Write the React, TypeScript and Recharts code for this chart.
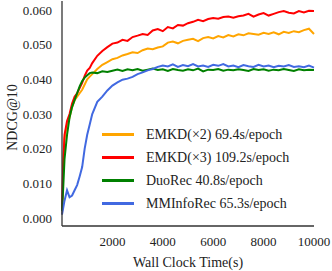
import React from "react";
import { LineChart, Line, XAxis, YAxis } from "recharts";

const times = [0, 50, 100, 200, 300, 400, 500, 600, 700, 800, 900, 1000, 1100, 1200,
  1400, 1600, 1800, 2000, 2200, 2400, 2600, 2800, 3000, 3200, 3400, 3600, 3800, 4000, 4200,
  4400, 4600, 4800, 5000, 5200, 5400, 5600, 5800, 6000, 6200, 6400, 6600, 6800, 7000, 7200,
  7400, 7600, 7800, 8000, 8200, 8400, 8600, 8800, 9000, 9200, 9400, 9600, 9800, 10000];

const emkd3 = [0.002, 0.016, 0.024, 0.028, 0.030, 0.033, 0.035, 0.036, 0.0375, 0.039, 0.041, 0.0425, 0.0433, 0.0447,
  0.0468, 0.0482, 0.0493, 0.0503, 0.0506, 0.0514, 0.0511, 0.0522, 0.0526, 0.0531, 0.0528, 0.0541, 0.0545, 0.0539, 0.0551,
  0.0547, 0.0557, 0.0555, 0.0562, 0.0566, 0.0572, 0.0568, 0.0574, 0.0577, 0.0575, 0.0580, 0.0581, 0.0578, 0.0582, 0.0584,
  0.0589, 0.0581, 0.0587, 0.0591, 0.0584, 0.0589, 0.0594, 0.0597, 0.0592, 0.0590, 0.0597, 0.0593, 0.0598, 0.0597];

const emkd2 = [0.001, 0.015, 0.023, 0.027, 0.029, 0.032, 0.034, 0.035, 0.036, 0.037, 0.0385, 0.040, 0.0408, 0.0415,
  0.0430, 0.0442, 0.0450, 0.0458, 0.0462, 0.0469, 0.0473, 0.0478, 0.0476, 0.0484, 0.0489, 0.0487, 0.0492, 0.0495, 0.0506,
  0.0509, 0.0504, 0.0511, 0.0514, 0.0517, 0.0510, 0.0519, 0.0522, 0.0518, 0.0525, 0.0521, 0.0528, 0.0524, 0.0530, 0.0527,
  0.0533, 0.0531, 0.0529, 0.0534, 0.0531, 0.0536, 0.0530, 0.0537, 0.0534, 0.0539, 0.0536, 0.0542, 0.0546, 0.0531];

const duorec = [0.002, 0.009, 0.017, 0.024, 0.029, 0.032, 0.034, 0.036, 0.038, 0.0395, 0.0405, 0.0412, 0.0418, 0.0420,
  0.0418, 0.0423, 0.0421, 0.0425, 0.0428, 0.0424, 0.0429, 0.0426, 0.0430, 0.0425, 0.0428, 0.0431, 0.0427, 0.0429, 0.0424,
  0.0430, 0.0427, 0.0425, 0.0429, 0.0426, 0.0431, 0.0423, 0.0428, 0.0427, 0.0430, 0.0425, 0.0428, 0.0426, 0.0429, 0.0427,
  0.0424, 0.0430, 0.0427, 0.0429, 0.0425, 0.0428, 0.0426, 0.0430, 0.0427, 0.0424, 0.0429, 0.0426, 0.0428, 0.0427];

const mminforec = [0.001, 0.003, 0.005, 0.008, 0.006, 0.0065, 0.008, 0.0095, 0.012, 0.0147, 0.020, 0.024, 0.027, 0.030,
  0.0335, 0.0350, 0.0368, 0.0382, 0.0391, 0.0399, 0.0402, 0.0407, 0.0415, 0.0420, 0.0426, 0.0430, 0.0436, 0.0440, 0.0437,
  0.0443, 0.0436, 0.0441, 0.0438, 0.0444, 0.0437, 0.0440, 0.0436, 0.0442, 0.0439, 0.0444, 0.0437, 0.0440, 0.0435, 0.0441,
  0.0438, 0.0436, 0.0442, 0.0437, 0.0440, 0.0435, 0.0439, 0.0437, 0.0441, 0.0436, 0.0438, 0.0435, 0.0440, 0.0434];

const seriesKeys = ["emkd2", "emkd3", "duorec", "mminforec"];
const seriesNames = ["EMKD(\u00d72) 69.4s/epoch", "EMKD(\u00d73) 109.2s/epoch", "DuoRec 40.8s/epoch", "MMInfoRec 65.3s/epoch"];
const seriesColors = ["#FFA500", "#FF0000", "#008000", "#4169E1"];

const xTicks = [2000, 4000, 6000, 8000, 10000];
const yTicks = [0, 0.01, 0.02, 0.03, 0.04, 0.05, 0.06];

const data = times.map((t, i) => ({
  t,
  emkd2: emkd2[i],
  emkd3: emkd3[i],
  duorec: duorec[i],
  mminforec: mminforec[i],
}));

const FONT = "'Liberation Serif', 'DejaVu Serif', serif";
const AXIS = "#333";

export default function App() {
  return (
    <div style={{ position: "absolute", left: 0, top: 0, width: 332, height: 271, background: "#fff" }}>
      <LineChart width={332} height={271} data={data} margin={{ top: 1, right: 18, left: 0, bottom: 0 }}>
        <XAxis
          dataKey="t"
          type="number"
          domain={[0, 10000]}
          ticks={xTicks}
          tickLine={false}
          tickMargin={5}
          height={45}
          stroke={AXIS}
          strokeWidth={1.3}
          tick={{ fill: "#222", fontSize: 13, fontFamily: FONT }}
          label={{ value: "Wall Clock Time(s)", position: "insideBottom", offset: 4, fill: "#222", fontSize: 14, fontFamily: FONT }}
        />
        <XAxis xAxisId="top" orientation="top" dataKey="t" type="number" domain={[0, 10000]} tick={false} tickLine={false} height={0} stroke={AXIS} strokeWidth={1.3} />
        <YAxis
          type="number"
          domain={[-0.0023, 0.0626]}
          ticks={yTicks}
          allowDataOverflow
          tickLine={false}
          tickMargin={4}
          width={62}
          stroke={AXIS}
          strokeWidth={1.3}
          tickFormatter={(v: number) => v.toFixed(3)}
          tick={{ fill: "#222", fontSize: 13, fontFamily: FONT }}
          label={{ value: "NDCG@10", angle: -90, position: "center", dx: -19, dy: 4, fill: "#222", fontSize: 14, fontFamily: FONT }}
        />
        <YAxis yAxisId="right" orientation="right" type="number" domain={[-0.0023, 0.0626]} tick={false} tickLine={false} width={0} stroke={AXIS} strokeWidth={1.3} />
        {seriesKeys.map((k, i) => (
          <Line
            key={k}
            dataKey={k}
            name={seriesNames[i]}
            stroke={seriesColors[i]}
            strokeWidth={2}
            dot={false}
            type="linear"
            isAnimationActive={false}
          />
        ))}
      </LineChart>
      <div style={{ position: "absolute", left: 102, top: 123, fontFamily: FONT, fontSize: 14, color: "#222" }}>
        {seriesNames.map((n, i) => (
          <div key={n} style={{ display: "flex", alignItems: "center", height: 23, whiteSpace: "nowrap" }}>
            <div style={{ width: 32, height: 2.5, background: seriesColors[i], marginRight: 12 }} />
            <span>{n}</span>
          </div>
        ))}
      </div>
    </div>
  );
}
